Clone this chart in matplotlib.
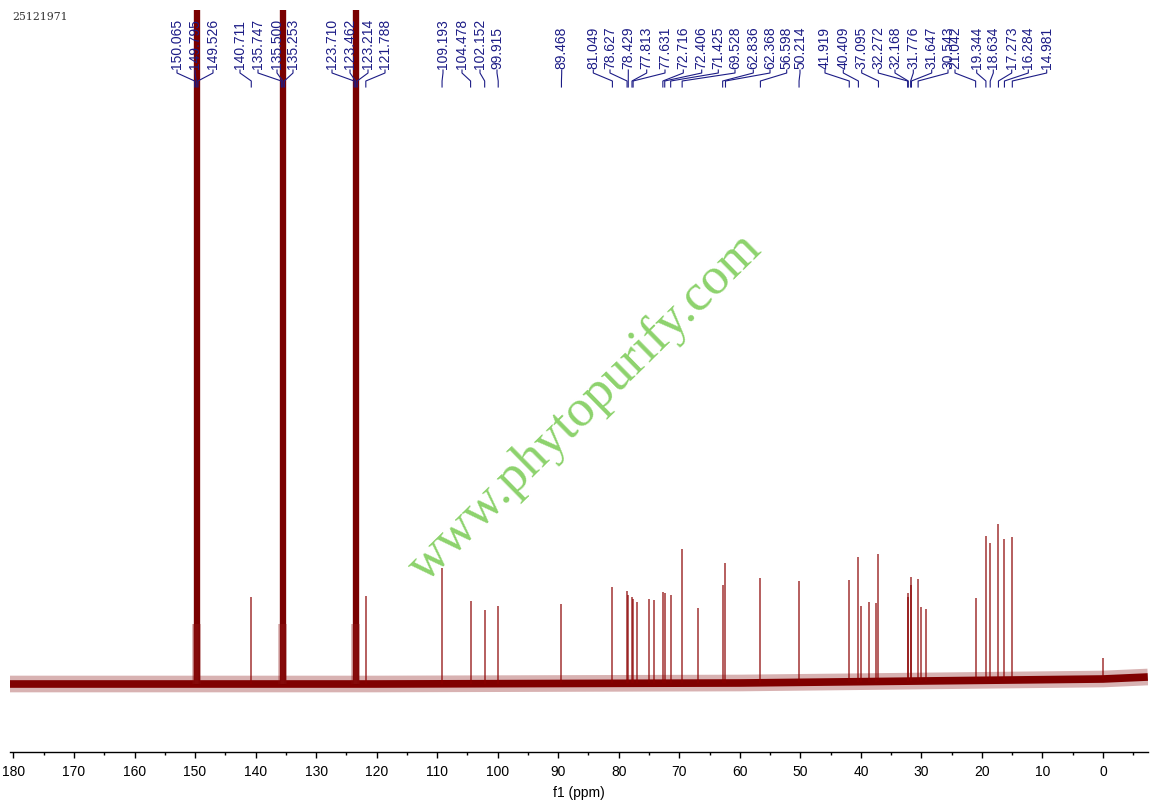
import matplotlib
matplotlib.use("Agg")
import matplotlib.pyplot as plt
import matplotlib.transforms as mtransforms
import numpy as np

# ---------------- data ----------------
title_text = "25121971"
watermark_text = "www.phytopurify.com"
x_label = "f1 (ppm)"

# peak positions (ppm) and heights (arbitrary intensity units, baseline = 0)
peak_ppm = [150.065, 149.795, 149.526, 140.711, 135.747, 135.500, 135.253,
            123.710, 123.462, 123.214, 121.788, 109.193, 104.478, 102.152,
            99.915, 89.468, 81.049, 78.627, 78.429, 77.813, 77.631, 76.98,
            75.0, 74.2, 72.716, 72.406, 71.425, 69.528, 66.9, 62.836, 62.368,
            56.598, 50.214, 41.919, 40.409, 39.9, 38.7, 37.5, 37.095, 32.272,
            32.168, 31.776, 31.647, 30.543, 30.1, 29.2, 21.042, 19.344,
            18.634, 17.273, 16.284, 14.981, 0.0]
peak_height = [90, 90, 90, 8.7, 90, 90, 90,
               90, 90, 90, 8.8, 11.6, 8.3, 7.4,
               7.8, 8.0, 9.7, 9.3, 8.9, 8.7, 8.5, 8.2,
               8.5, 8.4, 9.2, 9.1, 8.9, 13.5, 7.6, 9.9, 12.1,
               10.6, 10.3, 10.4, 12.7, 7.8, 8.2, 8.1, 13.0, 9.1,
               8.7, 10.7, 9.9, 10.5, 7.7, 7.5, 8.6, 14.8,
               14.1, 16.0, 14.5, 14.7, 2.6]

# baseline drift
baseline_ppm = [180.6, 120.0, 60.0, 30.0, 0.0, -7.4]
baseline_level = [0.0, 0.0, 0.1, 0.3, 0.5, 0.7]

# peak-picking labels
label_values = [150.065, 149.795, 149.526, 140.711, 135.747, 135.500, 135.253,
                123.710, 123.462, 123.214, 121.788, 109.193, 104.478, 102.152,
                99.915, 89.468, 81.049, 78.627, 78.429, 77.813, 77.631, 72.716,
                72.406, 71.425, 69.528, 62.836, 62.368, 56.598, 50.214, 41.919,
                40.409, 37.095, 32.272, 32.168, 31.776, 31.647, 30.543, 21.042,
                19.344, 18.634, 17.273, 16.284, 14.981]

# x axis
xticks_major = list(range(180, -1, -10))
xticks_minor = list(range(175, -6, -10))

# ---------------- layout ----------------
W, H = 1160, 811
px_per_ppm = 6.053
x_zero_px = 1103.0
ax_left_px, ax_right_px = 10, 1148
ax_top_px, ax_bottom_px = 10, 752
baseline_px = 684

# label text positions (pixels from left edge, layout only)
label_px = [177, 195, 213, 240, 258, 277, 293,
            332, 350, 368, 385, 443, 462, 480,
            497, 561.7, 593.3, 610, 628.3, 646.7, 665, 683.3,
            701.7, 718.3, 735, 753.3, 770, 786.7, 800, 825,
            843.3, 861.7, 878.3, 895, 913.3, 931.7, 948, 955,
            976.7, 993.3, 1011.7, 1028.3, 1046.7]


def px2ppm(px):
    return (x_zero_px - np.asarray(px, dtype=float)) / px_per_ppm


def fy(py):
    return (H - py) / H


spec_color = "#800000"
label_color = "#1c1c86"

fig = plt.figure(figsize=(W / 100, H / 100), dpi=100)
ax = fig.add_axes([ax_left_px / W, fy(ax_bottom_px),
                   (ax_right_px - ax_left_px) / W,
                   (ax_bottom_px - ax_top_px) / H])

unit = 10.0  # px per intensity unit
ymin = -(ax_bottom_px - baseline_px) / unit
ymax = (baseline_px - ax_top_px) / unit

# axes styling (ticks first, limits after so ticks do not widen the view)
for s in ["top", "left", "right"]:
    ax.spines[s].set_visible(False)
ax.spines["bottom"].set_linewidth(1.0)
ax.set_yticks([])
ax.set_xticks(xticks_major)
ax.set_xticks(xticks_minor, minor=True)
ax.set_xlim(px2ppm(ax_left_px), px2ppm(ax_right_px))
ax.set_ylim(ymin, ymax)
ax.tick_params(axis="x", which="major", direction="out", length=4.5, width=1.0,
               pad=5, labelsize=10)
ax.tick_params(axis="x", which="minor", direction="out", length=2.5, width=1.0)
for t in ax.get_xticklabels():
    t.set_fontfamily("Liberation Sans")
ax.set_xlabel(x_label, fontsize=10, family="Liberation Sans", labelpad=5)

# baseline band (noise envelope)
bp = np.array(baseline_ppm)
bl = np.array(baseline_level)
ax.plot(bp, bl, color=spec_color, lw=12, alpha=0.3, solid_capstyle="butt")
ax.plot(bp, bl, color=spec_color, lw=5.5, solid_capstyle="butt")

# peaks
pp = np.array(peak_ppm)
ph = np.array(peak_height)
base = np.interp(pp, bp[::-1], bl[::-1])
big = ph > ymax
ax.vlines(pp[~big], base[~big], ph[~big], color="#8b0000", lw=1.1, alpha=0.8)
ax.vlines(pp[big], base[big], ph[big], color="#7a0000", lw=2.4)
ax.vlines(pp[big], base[big], base[big] + 6.0, color="#8b1010", lw=4.0, alpha=0.35)

# peak labels with connectors
trans = mtransforms.blended_transform_factory(ax.transData, fig.transFigure)
lx_ppm = px2ppm(label_px)
for val, lx in zip(label_values, lx_ppm):
    ax.text(lx, fy(69), f"{val:.3f}", transform=trans, rotation=90,
            rotation_mode="anchor", ha="left", va="center", fontsize=10,
            family="Liberation Sans", color=label_color, clip_on=False)
    ax.plot([lx, lx, val, val], [fy(70), fy(73), fy(81), fy(87)],
            transform=trans, color=label_color, lw=0.8, clip_on=False)

# title and watermark
fig.text(12 / W, fy(17), title_text, fontsize=7.8, family="DejaVu Serif",
         color="#333333", va="center", ha="left")
fig.text(585 / W, fy(408), watermark_text, fontsize=38, family="Liberation Serif",
         color="#86d064", rotation=44.5, rotation_mode="anchor",
         ha="center", va="center", alpha=0.95)

fig.savefig("out.png", dpi=100)
